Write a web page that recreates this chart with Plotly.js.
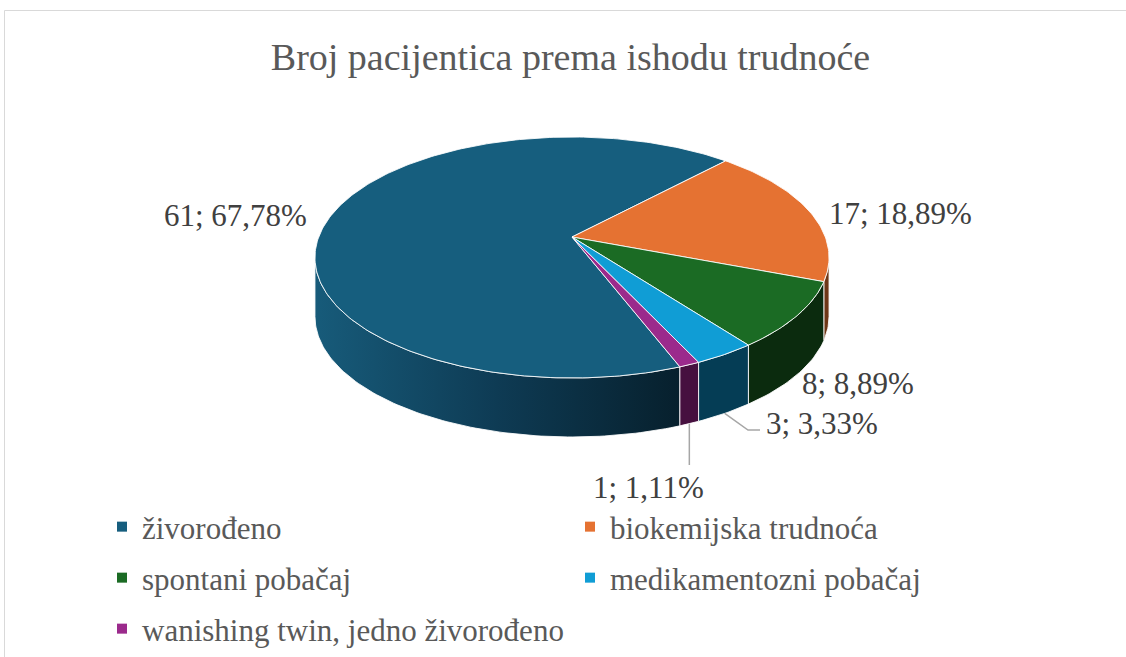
<!DOCTYPE html>
<html><head><meta charset="utf-8">
<script src="https://cdn.plot.ly/plotly-3.0.1.min.js"></script>
<style>
html,body{margin:0;padding:0;background:#fff;}
#chart svg text{font-family:"Liberation Serif","Times New Roman",serif !important;}
</style>
</head><body><div id="chart" style="width:1126px;height:657px;"></div>
<script>
// ---- data ----
const categories = ['živorođeno','biokemijska trudnoća','spontani pobačaj','medikamentozni pobačaj','wanishing twin, jedno živorođeno'];
const counts = [61, 17, 8, 3, 1];
const chartTitle = 'Broj pacijentica prema ishodu trudnoće';

// ---- styles ----
const topColors = ['#165e7e','#e57232','#1b6b24','#109dd5','#9b2a8c'];
const sideColors = ['#0e3b54','#6e3717','#0b2b0e','#053d55','#46103f'];
const FONT = 'Liberation Serif';
const geo = {cx:572, cy:237, A:253.3, B:117, k:0.17, depth:59, start:159};
const labelXY = [[235,215],[900,213],[858,383],[822,423],[648,487]];

function proj(deg, drop){
  const t = deg*Math.PI/180, u = Math.sin(t), w = Math.cos(t), d = 1 + geo.k*w;
  return [geo.cx + geo.A*u/d, geo.cy - geo.B*w/d + (drop||0)];
}
const total = counts.reduce((a,b)=>a+b,0);
let acc = geo.start;
const slices = counts.map(v=>{const a0=acc, a1=acc+v/total*360; acc=a1; return {a0,a1,mid:(a0+a1)/2};});
function arc(a0,a1,drop){
  const n = Math.max(2, Math.ceil(Math.abs(a1-a0)));
  const xs=[], ys=[];
  for(let i=0;i<=n;i++){const p=proj(a0+(a1-a0)*i/n,drop); xs.push(p[0]); ys.push(p[1]);}
  return [xs,ys];
}
const visLo = Math.acos(-geo.k)*180/Math.PI, visHi = 360-visLo;
const traces = [];
const edge = {color:'rgba(255,255,255,0.85)', width:1};
// side walls
slices.forEach((s,i)=>{
  for(const sh of [-360,0,360]){
    const lo = Math.max(s.a0+sh, visLo), hi = Math.min(s.a1+sh, visHi);
    if(hi>lo){
      const [tx,ty]=arc(lo,hi,0), [bx,by]=arc(hi,lo,geo.depth);
      const tr = {type:'scatter', mode:'lines', x:[...tx,...bx,tx[0]], y:[...ty,...by,ty[0]],
        fill:'toself', fillcolor:sideColors[i], line:edge, hoverinfo:'skip', showlegend:false};
      if(i===0){ tr.fillgradient = {type:'horizontal', colorscale:[[0,'#175b7a'],[0.5,'#0e3b54'],[1,'#07202d']]}; }
      traces.push(tr);
    }
  }
});
// top faces
slices.forEach((s,i)=>{
  const [ax,ay]=arc(s.a0,s.a1,0);
  traces.push({type:'scatter', mode:'lines', x:[geo.cx,...ax,geo.cx], y:[geo.cy,...ay,geo.cy],
    fill:'toself', fillcolor:topColors[i], line:edge, hoverinfo:'skip', showlegend:false, name:categories[i]});
});
// legend entries
const legendOf = ['legend','legend','legend2','legend2','legend3'];
categories.forEach((c,i)=>{
  traces.push({type:'scatter', mode:'markers', x:[null], y:[null], name:c, legend:legendOf[i],
    marker:{symbol:'square', size:10, color:topColors[i]}, hoverinfo:'skip'});
});
// labels
const annotations = counts.map((v,i)=>({
  x:labelXY[i][0], y:labelXY[i][1], xref:'x', yref:'y', showarrow:false,
  text: v + '; ' + (v/total*100).toFixed(2).replace('.', ',') + '%',
  xanchor:'center', yanchor:'middle', font:{family:FONT, size:31, color:'#404040'}
}));
const p3 = proj(slices[3].mid, geo.depth), p4 = proj(slices[4].mid, geo.depth);
const leader = {color:'#a6a6a6', width:1.5};
const shapes = [
  {type:'rect', xref:'x', yref:'y', x0:4.5, y0:10.5, x1:1140, y1:670, line:{color:'#d9d9d9', width:1}},
  {type:'path', xref:'x', yref:'y', path:`M${p3[0]},${p3[1]} L748,430 L760,430`, line:leader},
  {type:'path', xref:'x', yref:'y', path:`M${p4[0]},${p4[1]} L${p4[0]},465`, line:leader}
];
const legBase = {orientation:'h', xanchor:'left', yanchor:'middle', entrywidth:423, entrywidthmode:'pixels',
  font:{family:FONT, size:31, color:'#595959'}, bgcolor:'rgba(0,0,0,0)', x:102/1126};
const layout = {
  width:1126, height:657, margin:{l:0,r:0,t:0,b:0}, paper_bgcolor:'#fff', plot_bgcolor:'#fff',
  font:{family:FONT},
  title:{text:chartTitle, x:570.5/1126, xanchor:'center', y:1-57/657, yanchor:'middle', yref:'container',
    font:{family:FONT, size:38, color:'#595959'}},
  xaxis:{range:[0,1126], visible:false, fixedrange:true},
  yaxis:{range:[657,0], visible:false, fixedrange:true},
  legend:Object.assign({}, legBase, {y:1-527/657}),
  legend2:Object.assign({}, legBase, {y:1-578/657}),
  legend3:Object.assign({}, legBase, {y:1-629/657}),
  annotations, shapes, showlegend:true
};
Plotly.newPlot('chart', traces, layout, {staticPlot:true, displayModeBar:false});
</script></body></html>
